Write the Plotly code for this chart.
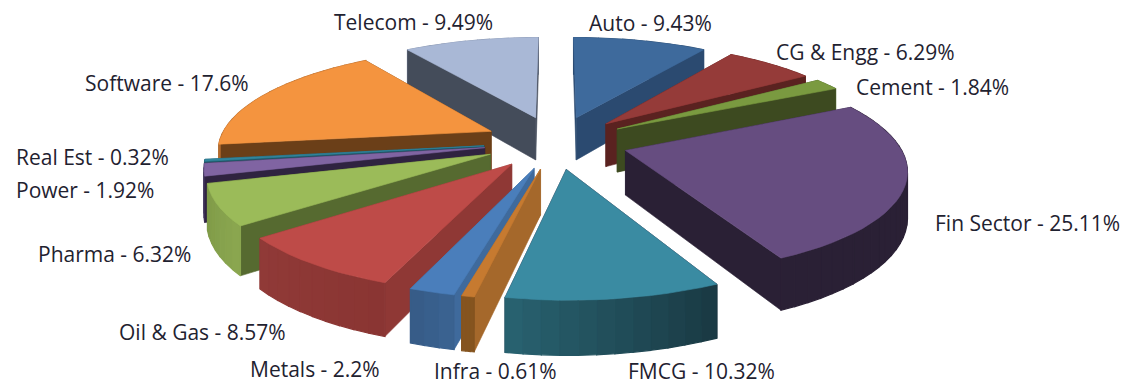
import math
import numpy as np
import plotly.graph_objects as go

sectors = ["Auto", "CG & Engg", "Cement", "Fin Sector", "FMCG", "Infra", "Metals",
           "Oil & Gas", "Pharma", "Power", "Real Est", "Software", "Telecom"]
weights = [9.43, 6.29, 1.84, 25.11, 10.32, 0.61, 2.2, 8.57, 6.32, 1.92, 0.32, 17.6, 9.49]
weight_labels = ["9.43%", "6.29%", "1.84%", "25.11%", "10.32%", "0.61%", "2.2%",
                 "8.57%", "6.32%", "1.92%", "0.32%", "17.6%", "9.49%"]
top_colors = ["#3E6A9C", "#953B39", "#7A9A40", "#664D80", "#3A8BA2", "#C67A30", "#4A7EBB",
              "#BE4B48", "#9BBB59", "#8064A2", "#31859C", "#F4943F", "#A9B8D6"]
radial_colors = ["#2B4A70", "#5A2220", "#3D4A20", "#2A2035", "#2A2035", "#A5682B", "#3F6A9C",
                 "#8F3835", "#566A30", "#2F2340", "#1E5666", "#6B3F18", "#444C5A"]
outer_start = ["#34587F", "#7A302E", "#64803A", "#2A2035", "#1A3A44", "#85541F", "#3A6290",
               "#8A3533", "#8AA64F", "#3B2E55", "#1E5666", "#B56C2E", "#8C99B2"]
outer_end = ["#2F5074", "#6E2B29", "#5C7635", "#2A2035", "#28616F", "#85541F", "#375C88",
             "#903A37", "#7F9A48", "#3B2E55", "#1E5666", "#B56C2E", "#8C99B2"]
label_x = [650, 865, 932, 1027, 701, 495, 315, 202, 114, 85, 92, 167, 413]
label_y = [23, 52, 87, 223, 371, 371, 369, 332, 254, 190, 157, 83, 22]

# projection of the tilted, exploded pie (window pixels)
CX, CY, R, K, P, DEPTH, EXPLODE = 556, 142, 272.5, 100, 0.16, 44, 0.265
PAGE_MARGIN = 8  # default body margin of the written page


def project(X, Y, drop=0.0):
    s = 1 / (1 + P * Y)
    return CX + R * X * s, CY - K * Y * s + drop * s


def hex_mix(a, b, t):
    ca = [int(a[i:i + 2], 16) for i in (1, 3, 5)]
    cb = [int(b[i:i + 2], 16) for i in (1, 3, 5)]
    return "#%02X%02X%02X" % tuple(round(u + (v - u) * t) for u, v in zip(ca, cb))


def polygon(fig, xs, ys, color, name, width=0.6):
    fig.add_trace(go.Scatter(x=list(xs) + [xs[0]], y=list(ys) + [ys[0]], mode="lines",
                             fill="toself", fillcolor=color, name=name,
                             line=dict(color=color, width=width), hoverinfo="name",
                             showlegend=False))


fig = go.Figure()
total = sum(weights)
cum = np.cumsum([0] + weights) / total * 2 * math.pi
slices = []
for i, w in enumerate(weights):
    a0, a1 = cum[i], cum[i + 1]
    mid = (a0 + a1) / 2
    ax, ay = EXPLODE * math.sin(mid), EXPLODE * math.cos(mid)
    n = max(3, int((a1 - a0) / math.radians(3)))
    th = np.linspace(a0, a1, n + 1)
    rim = [(ax + math.sin(t), ay + math.cos(t)) for t in th]
    slices.append((ay + 0.6 * math.cos(mid), i, (ax, ay), rim))

for _, i, apex, rim in sorted(slices, key=lambda s: -s[0]):
    name = f"{sectors[i]} - {weight_labels[i]}"
    faces = []
    for e in (rim[0], rim[-1]):
        faces.append(((apex[1] + e[1]) / 2, apex, e, radial_colors[i], 0.6))
    m = len(rim) - 1
    for j in range(m):
        col = hex_mix(outer_start[i], outer_end[i], j / max(m - 1, 1))
        faces.append(((rim[j][1] + rim[j + 1][1]) / 2, rim[j], rim[j + 1], col, 1.2))
    for _, p, q, col, wd in sorted(faces, key=lambda f: -f[0]):
        x1, y1 = project(*p)
        x2, y2 = project(*q)
        x3, y3 = project(*q, DEPTH)
        x4, y4 = project(*p, DEPTH)
        polygon(fig, [x1, x2, x3, x4], [y1, y2, y3, y4], col, name, wd)
    pts = [project(*apex)] + [project(*p) for p in rim]
    polygon(fig, [p[0] for p in pts], [p[1] for p in pts], top_colors[i], name)

for s, lab, x, y in zip(sectors, weight_labels, label_x, label_y):
    fig.add_annotation(x=x, y=y, text=f"{s} - {lab}", showarrow=False, xanchor="center",
                       yanchor="middle", font=dict(family="Open Sans", size=21, color="#1F2230"))

fig.update_layout(width=1128 - PAGE_MARGIN, height=385 - PAGE_MARGIN,
                  margin=dict(l=0, r=0, t=0, b=0),
                  paper_bgcolor="white", plot_bgcolor="white", showlegend=False,
                  xaxis=dict(range=[PAGE_MARGIN, 1128], visible=False, fixedrange=True),
                  yaxis=dict(range=[385, PAGE_MARGIN], visible=False, fixedrange=True))
fig.write_html("out.html")
